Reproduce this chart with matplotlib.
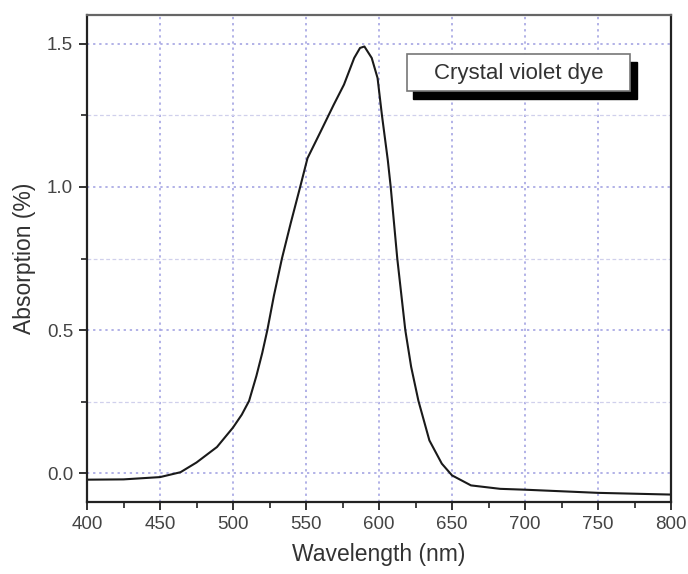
import matplotlib
matplotlib.use('Agg')
import matplotlib.pyplot as plt
from matplotlib.patches import Rectangle
from matplotlib.ticker import MultipleLocator, FormatStrFormatter

plt.rcParams['font.family'] = ['Liberation Sans', 'DejaVu Sans']

# absorption spectrum
wavelength = [400, 425, 450, 464, 475, 489, 500, 506, 511, 516, 520, 523.5, 528, 533.5,
              539.5, 546, 551, 560, 569, 576, 583, 587, 590, 595, 599, 602, 606, 608,
              612.5, 618, 622, 627, 634.5, 643, 650, 663, 683, 700, 750, 800]
absorption = [-0.022, -0.021, -0.013, 0.004, 0.038, 0.092, 0.160, 0.205, 0.253, 0.34,
              0.42, 0.50, 0.62, 0.75, 0.873, 1.00, 1.10, 1.193, 1.287, 1.357, 1.45,
              1.485, 1.49, 1.45, 1.38, 1.25, 1.094, 1.00, 0.75, 0.50, 0.372, 0.253,
              0.115, 0.034, -0.007, -0.042, -0.054, -0.057, -0.068, -0.074]

legend_text = 'Crystal violet dye'

fig = plt.figure(figsize=(6.88, 5.74), dpi=100)
ax = fig.add_axes([0.1265, 0.1254, 0.8488, 0.8485])

ax.plot(wavelength, absorption, color='#1a1a1a', lw=1.5)

ax.set_xlim(400, 800)
ax.set_ylim(-0.1, 1.6)
ax.xaxis.set_major_locator(MultipleLocator(50))
ax.xaxis.set_minor_locator(MultipleLocator(25))
ax.yaxis.set_major_locator(MultipleLocator(0.5))
ax.yaxis.set_minor_locator(MultipleLocator(0.25))
ax.yaxis.set_major_formatter(FormatStrFormatter('%.1f'))

ax.grid(which='major', color='#9c9ce0', ls=(0, (1.5, 2.5)), lw=1.1)
ax.grid(which='minor', axis='y', color='#d0d0ec', ls=(0, (3, 2)), lw=0.9)

ax.tick_params(which='major', direction='out', length=6, width=1.3, color='#222222',
               labelsize=13.5, labelcolor='#444444', pad=4)
ax.tick_params(which='minor', direction='out', length=4, width=1.2, color='#222222')
ax.tick_params(top=False, right=False)

for side in ['left', 'bottom', 'right']:
    ax.spines[side].set_linewidth(1.6)
    ax.spines[side].set_color('#222222')
ax.spines['top'].set_linewidth(1.6)
ax.spines['top'].set_color('#666666')

ax.set_xlabel('Wavelength (nm)', fontsize=16.5, color='#333333', labelpad=7)
ax.set_ylabel('Absorption (%)', fontsize=16.5, color='#333333', labelpad=8)

# legend box with drop shadow, in pixel coords of the figure
W, H = 688, 574


def fig_rect(x0, y0, x1, y1, **kw):
    return Rectangle((x0 / W, 1 - y1 / H), (x1 - x0) / W, (y1 - y0) / H,
                     transform=fig.transFigure, **kw)


fig.add_artist(fig_rect(413, 62, 637, 99, facecolor='black', edgecolor='black', zorder=5))
fig.add_artist(fig_rect(407, 54, 630, 91, facecolor='white', edgecolor='#777777',
                        lw=1.2, zorder=6))
fig.text((407 + 630) / 2 / W, 1 - 73 / H, legend_text, ha='center', va='center',
         fontsize=16, color='#333333', zorder=7)

fig.savefig('out.png', dpi=100)
